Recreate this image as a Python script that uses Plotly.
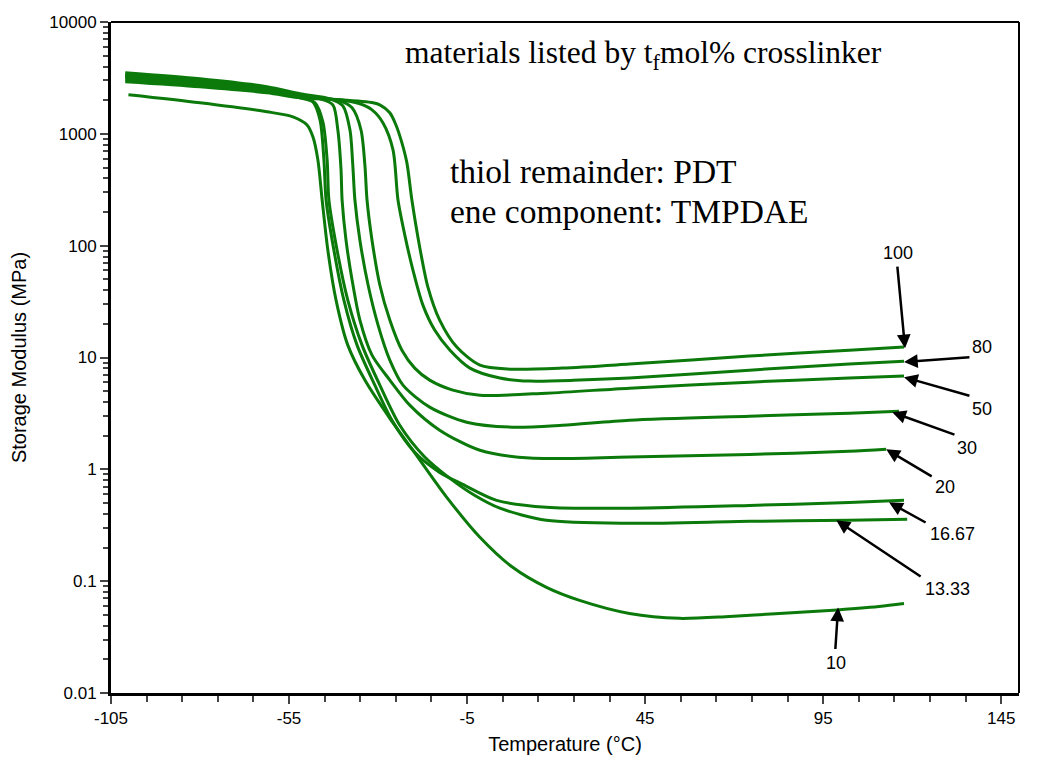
import math
import plotly.graph_objects as go

# ---- data (Temperature in °C, storage modulus in MPa) ----
t_100 = [-101.0, -80.0, -61.2, -51.9, -40.7, -31.4, -29.5, -26.7, -25.0, -23.3, -21.9, -20.5, -18.3, -16.0, -12.7, -7.9, -1.4, 7.0, 21.8, 40.6, 74.3, 102.3, 117.7]
e_100 = [2924, 2636, 2328, 2100, 2015, 1895, 1818, 1542, 1205, 830, 550, 256, 97, 42.6, 21.6, 12.4, 8.55, 7.87, 8.04, 8.73, 10.3, 11.6, 12.4]

t_80 = [-101.0, -80.0, -61.2, -51.9, -40.7, -35.1, -31.7, -28.6, -25.8, -24.4, -22.5, -20.2, -17.4, -14.1, -9.8, -4.2, 4.2, 12.6, 26.6, 40.6, 74.3, 102.3, 117.7]
e_80 = [3043, 2748, 2377, 2143, 2015, 1858, 1640, 1253, 719, 256, 125, 60.5, 29.4, 17.6, 11.6, 8.04, 6.55, 6.15, 6.28, 6.55, 7.71, 8.73, 9.28]

t_50 = [-101.0, -80.0, -61.2, -51.9, -40.7, -37.3, -34.8, -33.7, -33.1, -31.7, -29.5, -26.7, -23.3, -19.7, -15.5, -9.0, -1.4, 17.3, 40.6, 74.3, 102.3, 117.7]
e_50 = [3236, 2924, 2529, 2189, 1974, 1709, 1086, 527, 256, 112, 44.5, 21.6, 11.6, 8.04, 6.28, 5.11, 4.60, 4.80, 5.32, 6.02, 6.55, 6.82]

t_30 = [-101.0, -80.0, -61.2, -51.9, -43.5, -39.9, -37.9, -37.1, -36.5, -35.1, -32.8, -30.0, -26.7, -23.0, -15.5, -5.1, 7.8, 21.8, 40.6, 74.3, 102.3, 116.3]
e_30 = [3516, 3105, 2636, 2282, 2057, 1781, 1086, 527, 256, 112, 44.5, 19.5, 9.48, 5.66, 3.60, 2.64, 2.38, 2.48, 2.75, 2.99, 3.18, 3.31]

t_20 = [-101.0, -80.0, -61.2, -51.9, -46.3, -42.7, -41.3, -40.4, -40.1, -39.0, -37.3, -35.1, -31.7, -26.7, -21.1, -12.7, -1.4, 12.6, 40.6, 74.3, 102.3, 112.7]
e_20 = [3373, 3043, 2582, 2235, 2057, 1818, 1086, 476, 256, 112, 49.4, 21.6, 10.5, 6.28, 3.75, 2.24, 1.48, 1.26, 1.29, 1.36, 1.45, 1.51]

t_1667 = [-101.0, -80.0, -61.2, -51.9, -48.3, -46.3, -45.2, -44.6, -42.4, -39.6, -35.9, -30.9, -26.1, -19.7, -12.7, -6.2, 3.3, 17.3, 40.6, 74.3, 102.3, 117.7]
e_1667 = [3304, 2924, 2478, 2143, 1932, 1334, 585, 256, 91, 32.6, 12.9, 5.66, 2.75, 1.42, 0.938, 0.733, 0.528, 0.458, 0.449, 0.475, 0.506, 0.528]

t_1333 = [-101.0, -80.0, -61.2, -51.9, -47.7, -45.5, -44.3, -43.8, -41.5, -38.5, -34.5, -29.5, -23.9, -16.9, -9.8, -2.8, 4.2, 17.3, 40.6, 74.3, 102.3, 118.6]
e_1333 = [3170, 2806, 2427, 2100, 1895, 1281, 585, 256, 91, 32.6, 12.9, 5.66, 2.48, 1.29, 0.830, 0.583, 0.449, 0.350, 0.329, 0.343, 0.350, 0.357]

t_10 = [-100.1, -80.0, -61.2, -53.9, -50.0, -48.3, -46.9, -45.7, -44.1, -41.8, -38.5, -33.7, -26.7, -20.2, -10.7, -1.4, 7.8, 17.3, 26.6, 40.6, 54.6, 68.7, 82.7, 96.7, 110.7, 117.7]
e_10 = [2235, 1895, 1575, 1420, 1205, 940, 585, 256, 91, 32.6, 12.9, 6.28, 2.86, 1.48, 0.562, 0.247, 0.133, 0.088, 0.0673, 0.0514, 0.0465, 0.0484, 0.0514, 0.0547, 0.0594, 0.0632]

series_names = ["100", "80", "50", "30", "20", "16.67", "13.33", "10"]
series_t = [t_100, t_80, t_50, t_30, t_20, t_1667, t_1333, t_10]
series_e = [e_100, e_80, e_50, e_30, e_20, e_1667, e_1333, e_10]

# arrow labels: label text position, arrow tail, arrow head (T in °C, modulus in MPa)
label_text = ["100", "80", "50", "30", "20", "16.67", "13.33", "10"]
label_t = [116.1, 139.6, 139.6, 135.4, 129.2, 131.2, 129.8, 98.7]
label_e = [86.1, 12.4, 3.45, 1.55, 0.692, 0.262, 0.0845, 0.0184]
tail_t = [115.8, 136.5, 136.5, 132.3, 125.9, 124.2, 122.8, 98.4]
tail_e = [67.1, 10.1, 4.51, 2.02, 0.849, 0.329, 0.108, 0.0240]
head_t = [118.0, 117.7, 117.7, 114.4, 112.7, 113.5, 98.7, 99.2]
head_e = [12.1, 9.10, 6.67, 3.24, 1.51, 0.507, 0.350, 0.0582]

x_ticks = [-105, -55, -5, 45, 95, 145]
x_ticktext = ["-105", "-55", "-5", "45", "95", "145"]
y_ticks = [0.01, 0.1, 1, 10, 100, 1000, 10000]
y_ticktext = ["0.01", "0.1", "1", "10", "100", "1000", "10000"]
y_minor_ticks = [m * d for d in y_ticks[:-1] for m in range(2, 10)]

GREEN = "#0b7a0b"

fig = go.Figure()
for name, t, e in zip(series_names, series_t, series_e):
    fig.add_trace(go.Scatter(
        x=t, y=e, mode="lines", name=name,
        line=dict(color=GREEN, width=3, shape="spline", smoothing=0.8),
        showlegend=False, hoverinfo="x+y+name",
    ))

sans = "Arial, Liberation Sans, sans-serif"
serif = "Times New Roman, Liberation Serif, serif"

annotations = []
for txt, lx, ly, tx, ty, hx, hy in zip(label_text, label_t, label_e, tail_t, tail_e, head_t, head_e):
    annotations.append(dict(
        x=hx, y=math.log10(hy), ax=tx, ay=math.log10(ty),
        xref="x", yref="y", axref="x", ayref="y",
        text="", showarrow=True, arrowhead=2, arrowsize=1.1, arrowwidth=2.5,
        arrowcolor="black", standoff=0,
    ))
    annotations.append(dict(
        x=lx, y=math.log10(ly), xref="x", yref="y", text=txt, showarrow=False,
        font=dict(family=sans, size=18, color="black"),
        xanchor="center", yanchor="middle",
    ))

annotations.append(dict(
    x=44.6, y=3.707, xref="x", yref="y",
    text="materials listed by t<sub>f</sub>mol% crosslinker", showarrow=False,
    font=dict(family=serif, size=31.5, color="black"), xanchor="center", yanchor="middle",
))
annotations.append(dict(
    x=-10.4, y=2.660, xref="x", yref="y", text="thiol remainder: PDT", showarrow=False,
    font=dict(family=serif, size=33.5, color="black"), xanchor="left", yanchor="middle",
))
annotations.append(dict(
    x=-10.4, y=2.302, xref="x", yref="y", text="ene component: TMPDAE", showarrow=False,
    font=dict(family=serif, size=33.5, color="black"), xanchor="left", yanchor="middle",
))

fig.update_layout(
    width=1034, height=747,
    margin=dict(l=103, r=23, t=14, b=62, autoexpand=False),
    paper_bgcolor="white", plot_bgcolor="white",
    annotations=annotations,
    shapes=[
        dict(type="line", xref="paper", yref="paper", x0=0, x1=1, y0=1, y1=1,
             line=dict(color="black", width=2)),
        dict(type="line", xref="paper", yref="paper", x0=1, x1=1, y0=0, y1=1,
             line=dict(color="black", width=2)),
    ],
    xaxis=dict(
        range=[-105, 150], tickvals=x_ticks, ticktext=x_ticktext,
        ticks="outside", ticklen=8, tickwidth=2,
        showline=True, linecolor="black", linewidth=3, showgrid=False, zeroline=False,
        tickfont=dict(family=sans, size=17, color="black"),
        minor=dict(dtick=10, tick0=-105, ticks="outside", ticklen=6, tickwidth=2, showgrid=False),
        title=dict(text="Temperature (°C)", font=dict(family=sans, size=20, color="black"), standoff=10),
    ),
    yaxis=dict(
        type="log", range=[-2, 4], tickvals=y_ticks, ticktext=y_ticktext,
        ticks="outside", ticklen=8, tickwidth=2,
        showline=True, linecolor="black", linewidth=3, showgrid=False, zeroline=False,
        tickfont=dict(family=sans, size=17, color="black"),
        minor=dict(tickmode="array", tickvals=y_minor_ticks, ticks="outside",
                   ticklen=5, tickwidth=1.5, showgrid=False),
        title=dict(text="Storage Modulus (MPa)", font=dict(family=sans, size=20, color="black"), standoff=18),
    ),
)

fig.write_html("out.html")
